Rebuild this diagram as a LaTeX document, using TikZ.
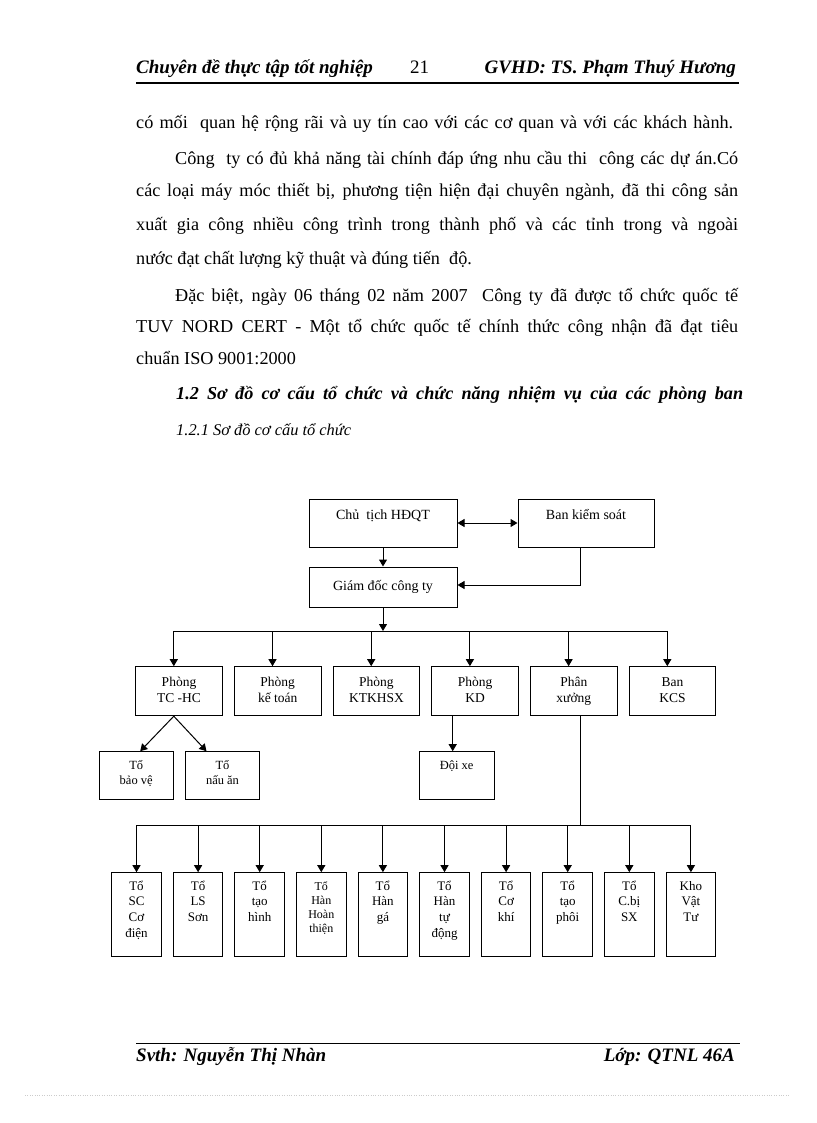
\documentclass[tikz,border=0pt]{standalone}
\usepackage{fontspec}
\setmainfont{Liberation Serif}
\usetikzlibrary{arrows.meta,positioning,calc}
\newcommand{\topbox}[4]{\parbox[c][#1][t]{#2}{\centering\rule{0pt}{#3}#4}}

\begin{document}
\begin{tikzpicture}[x=1pt, y=-1pt,
    orgbox/.style={draw, line width=1pt, inner sep=0pt, align=center},
    dept/.style={orgbox, font=\fontsize{13.5}{16.7}\selectfont},
    team/.style={orgbox, font=\fontsize{13}{15.7}\selectfont},
    subbox/.style={orgbox, font=\fontsize{12.5}{15}\selectfont},
    txt/.style={anchor=base west, inner sep=0pt, font=\fontsize{18.2}{22}\selectfont},
    hdr/.style={inner sep=0pt, font=\fontsize{19}{22}\selectfont\bfseries\itshape},
    wire/.style={line width=1pt},
    arr/.style={->, >={Triangle[length=7pt,width=8pt]}, line width=1pt},
    arr2/.style={<->, >={Triangle[length=7pt,width=8pt]}, line width=1pt}
]
\fill[white] (0,0) rectangle (816,1123);
\useasboundingbox (0,0) rectangle (816,1123);

% header and footer
\node[hdr, anchor=base west] (hL) at (136,74) {Chuyên đề thực tập tốt nghiệp};
\node[inner sep=0pt, anchor=base west, font=\fontsize{19}{22}\selectfont] (hN) at (410,74) {21};
\node[hdr, anchor=base east] (hR) at (736,74) {GVHD: TS. Phạm Thuý Hương};
\draw[line width=1.5pt] (136,83) -- (739,83);
\draw[line width=1pt] (136,1043) -- (740,1043);
\node[hdr, anchor=base west] (fL) at (136,1061) {Svth: Nguyễn Thị Nhàn};
\node[hdr, anchor=base east] (fR) at (735,1061) {Lớp: QTNL 46A};
\draw[gray!40, dotted] (25,1095) -- (790,1095);

% text
\node[txt] (l1) at (136,129) {\makebox[597pt][s]{có mối\ \ quan hệ rộng rãi và uy tín cao với các cơ quan và với các khách hành.}};
\node[txt] (l2) at (175,165) {\makebox[563pt][s]{Công\ \ ty có đủ khả năng tài chính đáp ứng nhu cầu thi\ \ công các dự án.Có}};
\node[txt] (l3) at (136,197) {\makebox[602pt][s]{các loại máy móc thiết bị, phương tiện hiện đại chuyên ngành, đã thi công sản}};
\node[txt] (l4) at (136,231) {\makebox[602pt][s]{xuất gia công nhiều công trình trong thành phố và các tỉnh trong và ngoài}};
\node[txt] (l5) at (136,264) {nước đạt chất lượng kỹ thuật và đúng tiến\ \ độ.};
\node[txt] (l6) at (175,301) {\makebox[563pt][s]{Đặc biệt, ngày 06 tháng 02 năm 2007\ \ Công ty đã được tổ chức quốc tế}};
\node[txt] (l7) at (136,332) {\makebox[602pt][s]{TUV NORD CERT - Một tổ chức quốc tế chính thức công nhận đã đạt tiêu}};
\node[txt] (l8) at (136,364) {chuẩn ISO 9001:2000};
\node[txt, font=\fontsize{18.2}{22}\selectfont\bfseries\itshape] (l9) at (176,399) {\makebox[567pt][s]{1.2 Sơ đồ cơ cấu tổ chức và chức năng nhiệm vụ của các phòng ban}};
\node[txt, font=\fontsize{16.4}{20}\selectfont\itshape] (l10) at (176,435) {1.2.1 Sơ đồ cơ cấu tổ chức};

% top
\node[orgbox, font=\fontsize{14}{17}\selectfont] (cht) at (383,523) {\topbox{48pt}{148pt}{20pt}{Chủ\ \ tịch HĐQT}};
\node[orgbox, font=\fontsize{14}{17}\selectfont] (bks) at (586,523) {\topbox{48pt}{136pt}{20pt}{Ban kiểm soát}};
\node[orgbox, minimum width=148pt, minimum height=40pt, font=\fontsize{14}{17}\selectfont] (gd) at (383,587) {Giám đốc công ty};
\coordinate (bus1) at (383,631);
\coordinate (bus2) at (580.7,825);

\draw[arr2] (cht) -- (bks);
\draw[arr] (cht) -- (gd);
\draw[arr] ([xshift=-6pt]bks.south) |- ([yshift=2pt]gd.east);
\draw[arr] (gd) -- (bus1);

% phong ban
\foreach \n/\x/\t in {pTC/179/Phòng\\TC -HC, pKT/277.7/Phòng\\kế toán, pKH/376.4/Phòng\\KTKHSX,
    pKD/475.1/Phòng\\KD, pPX/573.8/Phân\\xưởng, bKCS/672.5/Ban\\KCS}
    \node[dept] (\n) at (\x,691.2) {\topbox{49pt}{86.7pt}{19.5pt}{\t}};

\draw[wire] ([xshift=-5.2pt]pTC.north |- bus1) -- ([xshift=-5.2pt]bKCS.north |- bus1);
\foreach \n in {pTC,pKT,pKH,pKD,pPX,bKCS}
    \draw[arr] ([xshift=-5.2pt]\n.north |- bus1) -- ([xshift=-5.2pt]\n.north);

\node[subbox] (tBV) at (136.2,775.5) {\topbox{47.6pt}{74.3pt}{17.5pt}{Tổ\\bảo vệ}};
\node[subbox] (tNA) at (222.5,775.5) {\topbox{47.6pt}{73.6pt}{17.5pt}{Tổ\\nấu ăn}};
\node[subbox] (dXe) at (456.7,775.5) {\topbox{47.6pt}{74.7pt}{17.5pt}{Đội xe}};

\draw[arr] ([xshift=-5.2pt]pTC.south) -- ([xshift=4pt]tBV.north);
\draw[arr] ([xshift=-5.2pt]pTC.south) -- ([xshift=-16pt]tNA.north);
\draw[arr] ([xshift=-4pt]dXe.north |- pKD.south) -- ([xshift=-4pt]dXe.north);

% to san xuat
\foreach \t [count=\i from 0] in {Tổ\\SC\\Cơ\\điện, Tổ\\LS\\Sơn, Tổ\\tạo\\hình,
    {\fontsize{12}{14}\selectfont Tổ\\Hàn\\Hoàn\\thiện}, Tổ\\Hàn\\gá, Tổ\\Hàn\\tự\\động,
    Tổ\\Cơ\\khí, Tổ\\tạo\\phôi, Tổ\\C.bị\\SX, Kho\\Vật\\Tư}
    \node[team] (t\i) at (136.5+61.6*\i,914.7) {\topbox{84pt}{49.5pt}{17.3pt}{\t}};

\draw[wire] (pPX.south -| bus2) -- (bus2);
\draw[wire] (t0.north |- bus2) -- (t9.north |- bus2);
\foreach \i in {0,...,9}
    \draw[arr] (t\i.north |- bus2) -- (t\i.north);
\end{tikzpicture}
\end{document}
